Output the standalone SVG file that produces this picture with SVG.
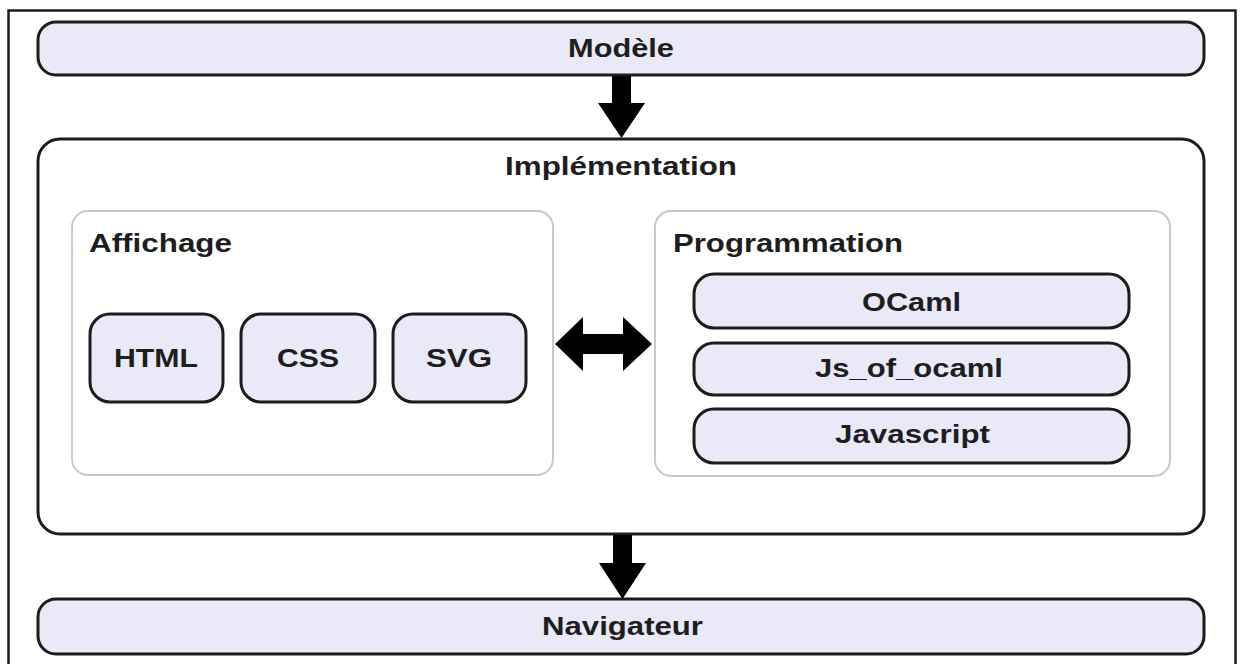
<svg xmlns="http://www.w3.org/2000/svg" width="1241" height="664" viewBox="0 0 1241 664">
  <style>
    .bar { fill: #e9e9f8; stroke: #1c1c1c; stroke-width: 3; }
    .frame { fill: #ffffff; stroke: #1c1c1c; stroke-width: 3; }
    .panel { fill: #ffffff; stroke: #c9c9c9; stroke-width: 2; }
    .label { font-family: "Liberation Sans", Arial, sans-serif; font-weight: bold; font-size: 26px; fill: #1e1e1e; }
    .arrow { fill: #000000; }
  </style>
  <rect x="0" y="0" width="1241" height="664" fill="#ffffff"/>
  <!-- page border, open at the bottom -->
  <path d="M8.5,664 V10.5 H1235.5 V664" fill="none" stroke="#1c1c1c" stroke-width="2.5"/>

  <g id="modele">
    <rect class="bar" x="38" y="22" width="1166" height="53" rx="18"/>
    <text class="label" x="568" y="57" textLength="106" lengthAdjust="spacingAndGlyphs">Modèle</text>
  </g>

  <g id="implementation">
    <rect class="frame" x="38" y="139" width="1166" height="395" rx="22"/>
    <text class="label" x="505" y="175" textLength="232" lengthAdjust="spacingAndGlyphs">Implémentation</text>
  </g>

  <g id="affichage">
    <rect class="panel" x="72" y="211" width="481" height="264" rx="16"/>
    <text class="label" x="89" y="252" textLength="143" lengthAdjust="spacingAndGlyphs">Affichage</text>
  </g>

  <g id="html">
    <rect class="bar" x="90" y="314" width="133" height="88" rx="20"/>
    <text class="label" x="114" y="367" textLength="84" lengthAdjust="spacingAndGlyphs">HTML</text>
  </g>

  <g id="css">
    <rect class="bar" x="241" y="314" width="134" height="88" rx="20"/>
    <text class="label" x="277" y="367" textLength="62" lengthAdjust="spacingAndGlyphs">CSS</text>
  </g>

  <g id="svg">
    <rect class="bar" x="393" y="314" width="133" height="88" rx="20"/>
    <text class="label" x="426" y="367" textLength="66" lengthAdjust="spacingAndGlyphs">SVG</text>
  </g>

  <g id="programmation">
    <rect class="panel" x="655" y="211" width="515" height="265" rx="16"/>
    <text class="label" x="673" y="252" textLength="230" lengthAdjust="spacingAndGlyphs">Programmation</text>
  </g>

  <g id="ocaml">
    <rect class="bar" x="694" y="274" width="435" height="54" rx="20"/>
    <text class="label" x="862" y="311" textLength="99" lengthAdjust="spacingAndGlyphs">OCaml</text>
  </g>

  <g id="js_of_ocaml">
    <rect class="bar" x="694" y="343" width="435" height="52" rx="20"/>
    <text class="label" x="815" y="377" textLength="188" lengthAdjust="spacingAndGlyphs">Js_of_ocaml</text>
  </g>

  <g id="javascript">
    <rect class="bar" x="694" y="409" width="435" height="54" rx="20"/>
    <text class="label" x="835" y="443" textLength="155" lengthAdjust="spacingAndGlyphs">Javascript</text>
  </g>

  <g id="navigateur">
    <rect class="bar" x="38" y="599" width="1166" height="55" rx="18"/>
    <text class="label" x="542" y="635" textLength="161" lengthAdjust="spacingAndGlyphs">Navigateur</text>
  </g>

  <g id="connectors">
    <polygon class="arrow" points="612,76 631,76 631,103 645,103 621.5,138 598,103 612,103"/>
    <polygon class="arrow" points="555,344 583,317 583,334 623,334 623,317 652,344 623,371 623,354 583,354 583,371"/>
    <polygon class="arrow" points="613,535 632,535 632,563 646,563 622.5,599 599,563 613,563"/>
  </g>
</svg>
